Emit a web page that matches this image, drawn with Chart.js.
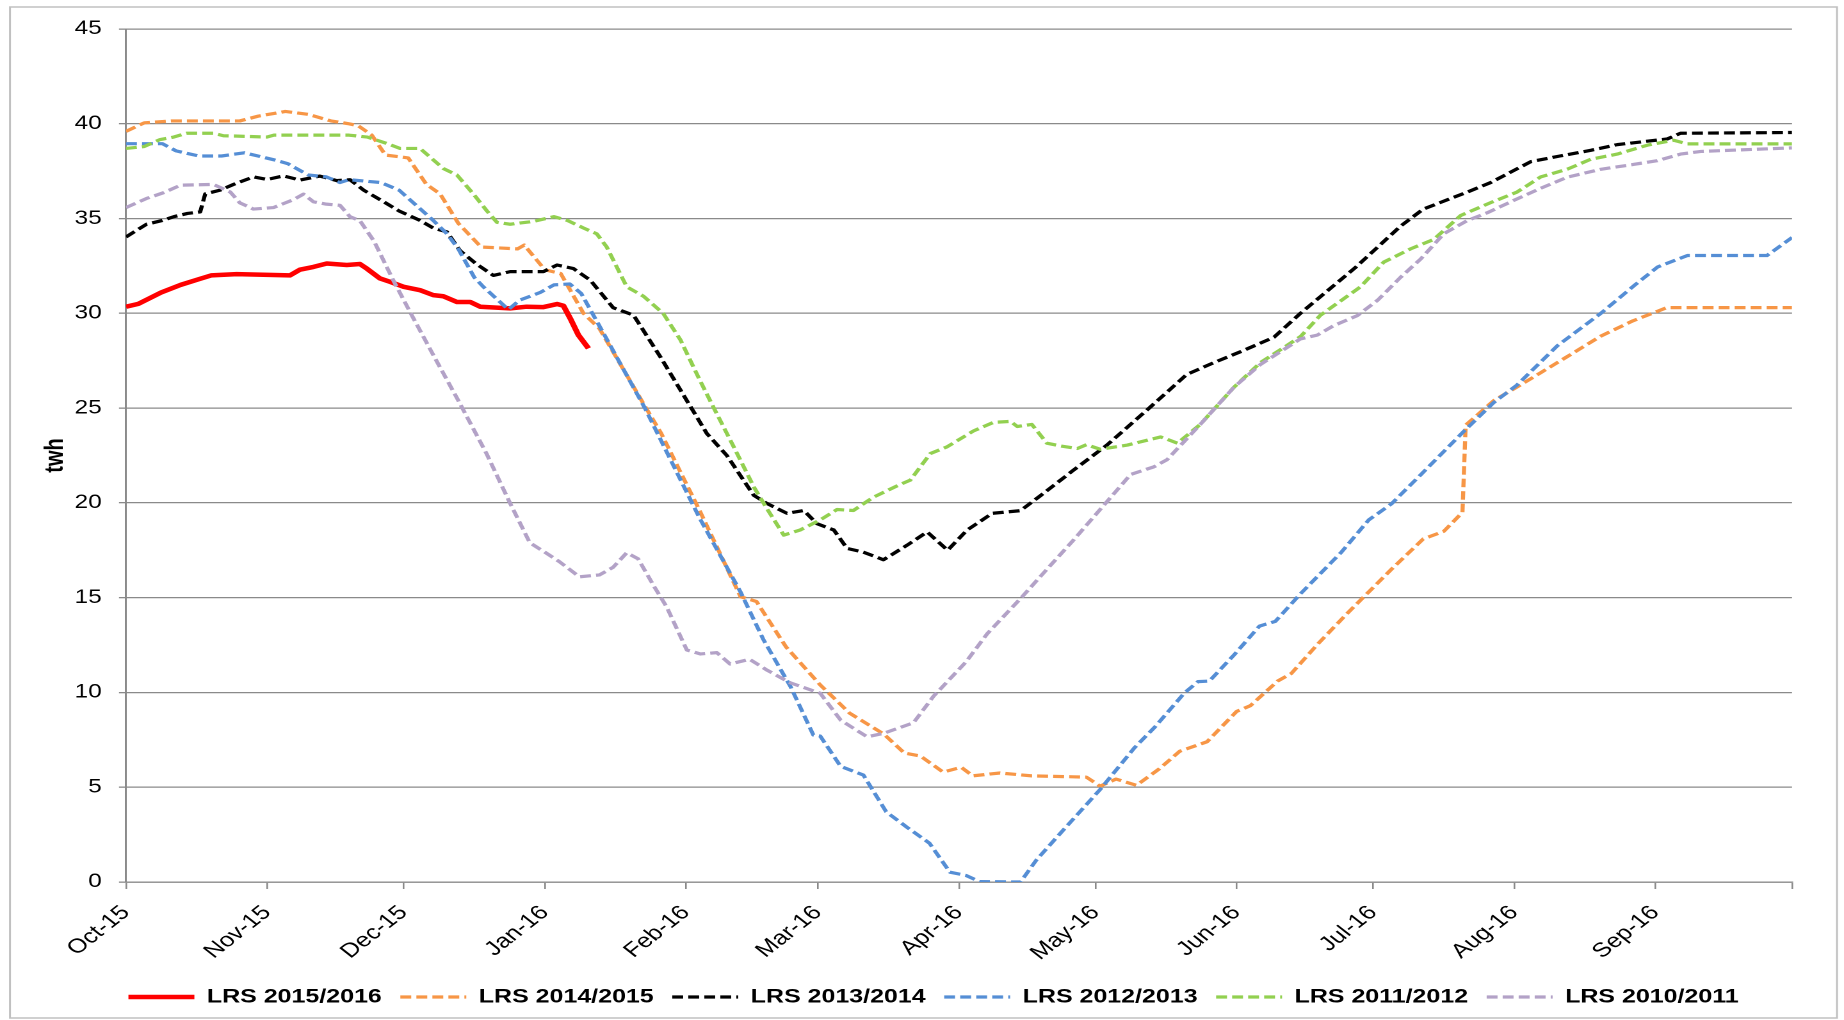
<!DOCTYPE html>
<html><head><meta charset="utf-8">
<script src="https://cdn.jsdelivr.net/npm/chart.js@4.4.1/dist/chart.umd.min.js"></script>
<style>
html,body{margin:0;padding:0;background:#fff;overflow:hidden;}
#wrap{position:absolute;left:0;top:0;width:1440px;height:1020px;transform:scaleX(1.280556);transform-origin:0 0;}
</style></head><body>
<div id="wrap"><canvas id="c"></canvas></div>
<script>
// ---- data (x = days since 1 Oct, value = TWh) ----
const monthTickDays = [0,31,61,92,123,152,183,213,244,274,305,336,366];
const monthLabels = ['Oct-15','Nov-15','Dec-15','Jan-16','Feb-16','Mar-16','Apr-16','May-16','Jun-16','Jul-16','Aug-16','Sep-16',''];
const yMin = 0, yMax = 45, yStep = 5;
const seriesNames = ['LRS 2015/2016','LRS 2014/2015','LRS 2013/2014','LRS 2012/2013','LRS 2011/2012','LRS 2010/2011'];

const days1516 = [0,2.7,7.7,12,16,18.7,24.3,36,38.2,41.2,44.1,48.5,51.4,52.9,55.8,58,61,64.6,67.5,69.7,72.7,75.6,77.8,84.4,88,91.7,94.7,96.1,97.6,99.4,101.6];
const lrs1516 = [30.35,30.5,31.1,31.5,31.8,32.0,32.07,32.0,32.3,32.45,32.63,32.55,32.6,32.36,31.84,31.66,31.4,31.22,30.96,30.9,30.6,30.6,30.35,30.26,30.35,30.33,30.49,30.4,29.73,28.85,28.15];

const days1415 = [0,4,10,25,29,35,40,45,49,51,54,57,62,66,69,73,78,86,87.5,92,95.5,100.5,104,114,117.5,126,135,138.5,145,152.5,159,166.5,171,174.5,179.5,183.5,186,192,199,208,211,214,217.5,222,227,231.5,237.5,244,247,253,256,262,268,273,278,285,289.5,293.6,294.3,300.5,305.5,311,316.5,324,331,338.5,366];
const lrs1415 = [39.6,40.05,40.15,40.15,40.4,40.65,40.5,40.15,40.0,39.9,39.4,38.35,38.2,36.8,36.3,34.75,33.5,33.4,33.6,32.3,32.1,30.0,29.2,25.1,23.7,19.6,15.05,14.8,12.4,10.4,8.9,7.8,6.8,6.65,5.8,6.05,5.6,5.75,5.6,5.55,5.53,5.06,5.43,5.1,5.97,6.9,7.4,9.0,9.3,10.6,11.0,12.6,14.1,15.3,16.5,18.1,18.5,19.5,24.1,25.4,26.1,26.9,27.7,28.8,29.6,30.3,30.3];

const days1314 = [0,4.5,8,10.5,13.5,16.3,17.4,20.7,23.6,28,31,34.6,38.2,42.6,46.3,49.2,52.2,56.5,60,64.6,67.5,70.5,73.4,77,80.7,84.4,91.7,94.7,98.3,102,107,111.5,117.4,123.2,127.6,132,137.9,140.8,145.2,148.9,151.8,155.5,158.4,162,166.4,171.6,176,180.5,184.8,190.3,196.5,201,208,215.5,224.3,233,239,244.8,252.2,258,270,280,285,294.7,299.8,308.6,315,321.8,327.6,334.2,338.6,341.5,366];
const lrs1314 = [34.03,34.7,34.9,35.1,35.27,35.35,36.3,36.5,36.8,37.2,37.06,37.25,37.03,37.24,37.0,37.05,36.5,35.9,35.4,34.9,34.5,34.3,33.3,32.6,32.0,32.2,32.2,32.55,32.36,31.75,30.3,29.9,27.7,25.4,23.66,22.5,20.4,19.97,19.45,19.6,18.9,18.57,17.6,17.4,17.0,17.77,18.47,17.5,18.57,19.45,19.59,20.4,21.7,23.05,24.9,26.77,27.4,27.97,28.74,30.0,32.4,34.6,35.5,36.4,36.9,38.0,38.3,38.6,38.9,39.08,39.2,39.5,39.54];

const days1213 = [0,8,11,16,21,26,32.5,35.5,40,44,47,49,56,60,67.5,70.5,73,76.5,78.5,84,86.5,91,94,97.5,100,103.5,114,126,135,140,146,151,152.5,157,162,167,171.5,176.5,181,184.5,187.5,196.5,200,206.5,214,221.5,226,232.5,235.5,238,243.5,249,252.5,258,267,273,278,284.5,294,300.5,305.5,314.5,324,331.5,336.5,343,360.5,366];
const lrs1213 = [38.95,38.95,38.57,38.3,38.3,38.47,38.1,37.9,37.3,37.2,36.9,37.05,36.9,36.5,34.9,34.2,33.4,31.9,31.4,30.2,30.7,31.1,31.5,31.55,31.05,29.55,25.0,19.2,15.3,12.8,10.3,7.75,7.7,6.1,5.64,3.7,2.9,2.05,0.52,0.35,0.02,0,1.16,2.9,4.88,7.07,8.17,9.97,10.57,10.6,12.0,13.5,13.75,15.2,17.4,19.1,19.95,21.5,23.8,25.3,26.2,28.3,30.0,31.5,32.45,33.05,33.05,34.0];

const days1112 = [0,4,7.5,10.5,13.3,19.2,21.4,31,32.5,49,53,57.3,60.2,64.6,69.7,72.7,76.3,79.3,81.5,84.4,89.5,94,97,100.5,103.4,105.6,110,113.7,118,121.8,126,129,133.5,137.9,140.8,144.5,148.1,152.5,156.2,159.8,164.2,169.4,172.3,176.7,180.4,186.2,190.6,194.3,195.8,199,202.3,205.3,209,211,214,220,227.3,231,236,243.4,249.2,253.6,258,262.4,271.2,276.3,282.2,287.3,293.2,299.8,305.6,310.8,316.6,321.8,327.6,334.2,340,343,366];
const lrs1112 = [38.7,38.8,39.17,39.3,39.5,39.5,39.37,39.3,39.4,39.4,39.3,38.96,38.7,38.7,37.64,37.3,36.3,35.4,34.8,34.7,34.85,35.1,34.9,34.5,34.2,33.5,31.4,30.9,30.0,28.6,26.5,25.07,22.96,20.85,19.7,18.3,18.57,19.1,19.65,19.6,20.3,20.9,21.2,22.6,22.96,23.8,24.25,24.3,24.03,24.14,23.15,23.0,22.87,23.07,22.83,23.05,23.48,23.15,24.14,26.1,27.4,28.08,28.77,29.9,31.4,32.7,33.4,33.9,35.16,35.84,36.4,37.2,37.6,38.13,38.4,38.87,39.13,38.94,38.94];

const days1011 = [0,4.5,8.2,12,19.2,22.9,25,28,32.4,36.8,39,41.2,44,47,49.2,51.4,54.5,58.7,63,67.5,73,79.2,84.4,88.7,92,95.2,99.6,104,107,110,112.5,116,118.8,123.2,126.2,129.8,132.7,137,140.8,146,152.5,157,162.8,166.4,173,177.4,184.5,189.2,196.5,201,208,214,220.7,225.8,228.7,236,243.4,249.2,258,261.7,265.3,270.5,275,280,284.4,289.5,294.7,299,305,310.8,316.6,324,331.3,336.4,341.5,346,366];
const lrs1011 = [35.58,36.06,36.36,36.76,36.8,36.4,35.83,35.5,35.58,36.0,36.29,35.88,35.76,35.7,35.1,34.88,33.8,31.75,29.8,27.8,25.4,22.6,19.97,17.9,17.4,16.9,16.1,16.2,16.6,17.37,17.05,15.6,14.5,12.24,12.03,12.1,11.5,11.75,11.18,10.5,9.96,8.54,7.66,7.84,8.4,9.8,11.6,13.1,14.95,16.15,18.0,19.65,21.5,21.9,22.28,24.14,26.1,27.3,28.65,28.85,29.35,29.88,30.7,31.9,32.86,34.2,34.9,35.3,35.97,36.6,37.18,37.6,37.86,38.05,38.4,38.54,38.73];

const seriesDays = [days1516, days1415, days1314, days1213, days1112, days1011];
const seriesValues = [lrs1516, lrs1415, lrs1314, lrs1213, lrs1112, lrs1011];

// ---- styles ----
const seriesStyles = [
  {color:'#FF0000', width:4.5, dash:[]},
  {color:'#F79646', width:3.2, dash:[8.5,4]},
  {color:'#000000', width:3.2, dash:[8.5,4]},
  {color:'#558ED5', width:3.2, dash:[8.5,4]},
  {color:'#92D050', width:3.2, dash:[8.5,4]},
  {color:'#B3A2C7', width:3.2, dash:[8.5,4]}
];
const FONT = 'Liberation Sans, Arial, sans-serif';
const GRID = '#8A8A8A';

const datasets = seriesNames.map((name, i) => ({
  label: name,
  data: seriesDays[i].map((d, k) => ({x: d, y: seriesValues[i][k]})),
  borderColor: seriesStyles[i].color,
  backgroundColor: seriesStyles[i].color,
  borderWidth: seriesStyles[i].width,
  borderDash: seriesStyles[i].dash,
  borderJoinStyle: 'round',
  pointRadius: 0,
  tension: 0,
  fill: false,
  order: seriesNames.length - 1 - i
}));

const frame = {
  id: 'frame',
  beforeDraw(chart) {
    const c = chart.ctx;
    c.save();
    c.strokeStyle = '#C0C0C0';
    c.lineWidth = 1.5;
    c.strokeRect(7.8, 7, 1426.7, 1011);
    c.restore();
  }
};

new Chart(document.getElementById('c'), {
  type: 'line',
  data: {datasets},
  plugins: [frame],
  options: {
    responsive: true,
    maintainAspectRatio: false,
    animation: false,
    devicePixelRatio: 2,
    layout: {padding: {left: 18, right: 0, top: 29, bottom: 3.25}},
    plugins: {
      tooltip: {enabled: false},
      legend: {
        position: 'bottom',
        labels: {
          usePointStyle: true,
          pointStyle: 'line',
          pointStyleWidth: 51.5,
          padding: 14.5,
          color: '#000',
          font: {family: FONT, size: 19.5, weight: 'bold'},
          generateLabels: chart => chart.data.datasets.map((ds, i) => ({
            text: ds.label,
            strokeStyle: ds.borderColor,
            fillStyle: ds.borderColor,
            lineWidth: ds.borderWidth,
            lineDash: ds.borderDash,
            pointStyle: 'line',
            fontColor: '#000',
            hidden: false,
            datasetIndex: i
          }))
        }
      }
    },
    scales: {
      x: {
        type: 'linear',
        min: monthTickDays[0],
        max: monthTickDays[monthTickDays.length - 1],
        afterBuildTicks: s => { s.ticks = monthTickDays.map(v => ({value: v})); },
        afterFit: s => { s.height = 90.75; },
        ticks: {
          autoSkip: false, minRotation: 45, maxRotation: 45, padding: 12,
          color: '#000', font: {family: FONT, size: 20},
          callback: (v, i) => monthLabels[i]
        },
        grid: {drawOnChartArea: false, drawTicks: true, tickLength: 7, color: GRID, lineWidth: 1.3},
        border: {display: true, color: GRID, width: 1.3}
      },
      y: {
        type: 'linear',
        position: 'left',
        min: yMin, max: yMax,
        afterFit: s => { s.width = 80.4; },
        ticks: {stepSize: yStep, padding: 13.5, color: '#000', font: {family: FONT, size: 19}},
        grid: {color: GRID, lineWidth: 1.3, tickLength: 5.5, drawTicks: true},
        border: {display: true, color: GRID, width: 1.5},
        title: {display: true, text: 'twh', color: '#000', font: {family: FONT, size: 20, weight: 'bold'}, padding: {top: 13.7, bottom: 0}}
      },
      y2: {
        type: 'linear',
        position: 'right',
        display: true,
        afterFit: s => { s.width = 40.6; },
        grid: {display: false, drawTicks: false},
        ticks: {display: false},
        border: {display: false}
      }
    }
  }
});
</script>
</body></html>
